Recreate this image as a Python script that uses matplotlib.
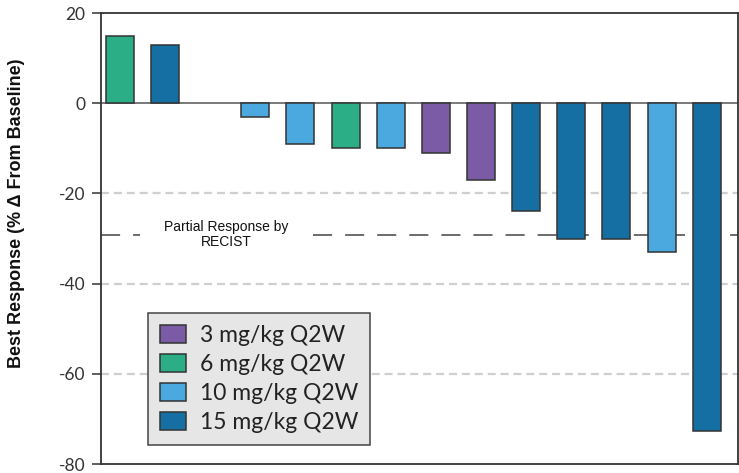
import matplotlib.pyplot as plt
from matplotlib.patches import Patch

# --- data ---
slots = list(range(14))
values = [15, 13, 0, -3, -9, -10, -10, -11, -17, -24, -30, -30, -33, -72.6]
doses = ['6', '15', None, '10', '10', '6', '10', '3', '3', '15', '15', '15', '10', '15']
legend_labels = ['3 mg/kg Q2W', '6 mg/kg Q2W', '10 mg/kg Q2W', '15 mg/kg Q2W']
dose_keys = ['3', '6', '10', '15']
y_ticks = [20, 0, -20, -40, -60, -80]
pr_level = -29.3

colors = {'3': '#7b5aa6', '6': '#2bae85', '10': '#4ba9e0', '15': '#156fa3'}
edge = '#333333'

fig = plt.figure(figsize=(7.39, 4.73), dpi=100)
ax = fig.add_axes([0.1367, 0.019, 0.8619, 0.9535])
xmin, xmax = -0.414, 13.69

# bars (the empty slot has no bar)
for x, v, d in zip(slots, values, doses):
    if d is None:
        continue
    ax.bar(x, v, width=0.62, color=colors[d], edgecolor=edge, linewidth=1.1, zorder=3)

# grid lines and zero line
for yv in [-20, -40, -60]:
    ax.axhline(yv, color='#cfcfcf', lw=1.6, linestyle=(0, (3.6, 2.2)), zorder=1)
ax.axhline(0, color='#555555', lw=1.1, zorder=2)

# partial response line, broken where the label sits
pr_style = dict(color='#444444', lw=1.1, linestyle=(0, (12.5, 8.5)), zorder=1)
ax.plot([xmin, 0.45], [pr_level, pr_level], **pr_style)
ax.plot([4.28, xmax], [pr_level, pr_level], **pr_style)
ax.text(2.35, pr_level + 0.25, 'Partial Response by\nRECIST', ha='center', va='center',
        fontsize=10, family='Liberation Sans', color='#111111', linespacing=1.1, zorder=2)

ax.set_xlim(xmin, xmax)
ax.set_ylim(-80, 20)
ax.set_xticks([])
ax.set_yticks(y_ticks)
ax.set_yticklabels([str(t) for t in y_ticks], family='Lato', fontsize=12.5, color='#333333')
ax.tick_params(axis='y', direction='out', length=6.5, width=1.1, color='#333333', pad=5)
for s in ax.spines.values():
    s.set_color('#333333')
    s.set_linewidth(1.3)

ax.set_ylabel('Best Response (% Δ From Baseline)', family='Liberation Sans',
              fontweight='bold', fontsize=13, color='#111111')
ax.yaxis.set_label_coords(-0.119, 0.556)

handles = [Patch(facecolor=colors[k], edgecolor=edge, linewidth=1.1) for k in dose_keys]
leg = ax.legend(handles, legend_labels, loc='upper left', bbox_to_anchor=(0.0738, 0.3348),
                borderaxespad=0, prop={'family': 'Lato', 'size': 16.5}, handlelength=1.14,
                handleheight=0.82, handletextpad=0.6, labelspacing=0.35, borderpad=0.52,
                fancybox=False, framealpha=1, facecolor='#e6e6e6', edgecolor='#444444')
leg.get_frame().set_linewidth(1.1)
for t in leg.get_texts():
    t.set_color('#222222')

fig.savefig('out.png', dpi=100)
